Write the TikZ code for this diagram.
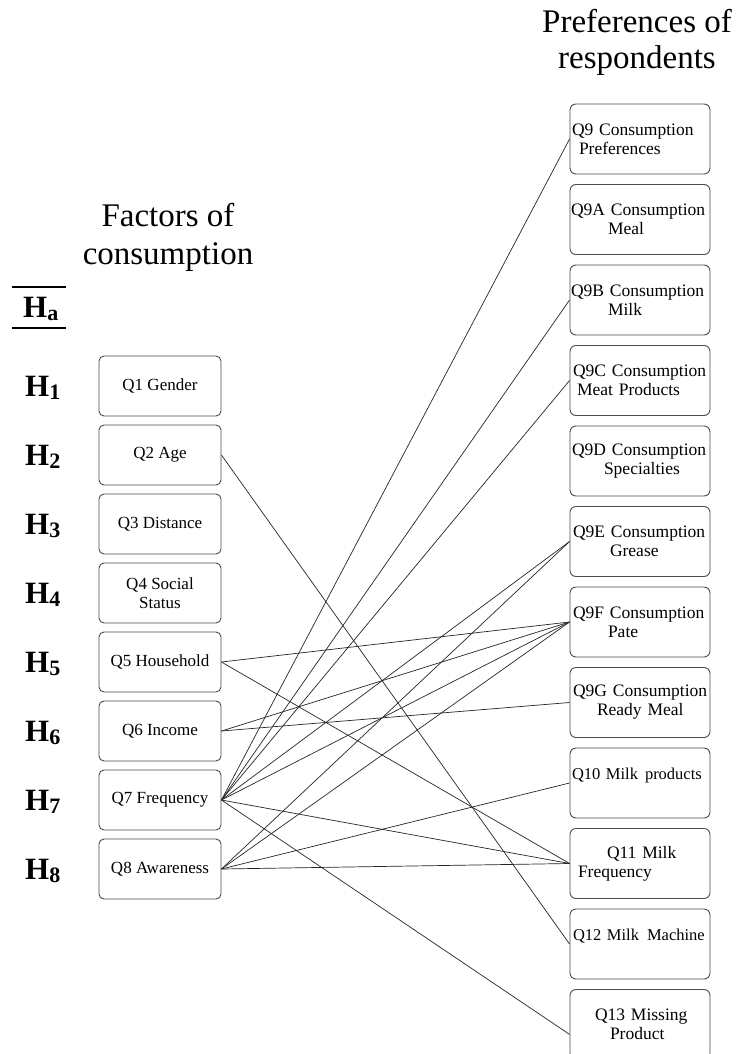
\documentclass[tikz,border=0pt]{standalone}
\usepackage{fontspec}
\setmainfont{Liberation Serif}
\newcommand{\Hsub}[1]{\textbf{H}\raisebox{-3pt}{\fontsize{22}{22}\selectfont\bfseries #1}}
\newcommand{\bxline}[2]{\hspace*{#1pt}\mbox{#2}}
\begin{document}
\begin{tikzpicture}[x=1pt,y=-1pt,
  lbox/.style={draw=black!70, line width=0.9pt, rounded corners=5pt, minimum width=122pt, minimum height=60pt, inner sep=0pt, align=center, font=\fontsize{17}{19}\selectfont},
  rbox/.style={draw=black!70, line width=0.9pt, rounded corners=6pt, minimum width=140pt, minimum height=70pt, inner xsep=1pt, inner ysep=0pt, text width=138pt, align=left, font=\fontsize{17.5}{19}\selectfont},
  hlab/.style={anchor=base west, inner sep=0pt, font=\fontsize{31}{31}\selectfont\bfseries},
  title/.style={align=center, inner sep=0pt, font=\fontsize{33}{38}\selectfont},
  link/.style={line width=0.7pt, black!85}]
\useasboundingbox (0,0) rectangle (739,1054);
\fill[white] (0,0) rectangle (739,1054);
\clip (0,0) rectangle (739,1054);

% titles
\node[title] (tleft) at (168,237.5) {Factors of\\consumption};
\node[title, font=\fontsize{33}{36}\selectfont] (tright) at (637,42) {Preferences of\\respondents};

% hypothesis labels
\node[hlab] (ha) at (23,317.5) {\textbf{H}\raisebox{-3pt}{\fontsize{22}{22}\selectfont\bfseries a}};
\draw[line width=1.5pt] (12,287) -- (66,287);
\draw[line width=1.5pt] (12,328) -- (66,328);
\node[hlab] (h1) at (25,396.3) {\Hsub{1}};
\node[hlab] (h2) at (25,465.3) {\Hsub{2}};
\node[hlab] (h3) at (25,534.3) {\Hsub{3}};
\node[hlab] (h4) at (25,603.3) {\Hsub{4}};
\node[hlab] (h5) at (25,672.3) {\Hsub{5}};
\node[hlab] (h6) at (25,741.3) {\Hsub{6}};
\node[hlab] (h7) at (25,810.3) {\Hsub{7}};
\node[hlab] (h8) at (25,879.3) {\Hsub{8}};

% left boxes
\node[lbox] (q1) at (160,386) {Q1 Gender};
\node[lbox] (q2) at (160,455) {Q2 Age};
\node[lbox] (q3) at (160,524) {Q3 Distance};
\node[lbox] (q4) at (160,593) {Q4 Social\\Status};
\node[lbox] (q5) at (160,662) {Q5 Household};
\node[lbox] (q6) at (160,731) {Q6 Income};
\node[lbox] (q7) at (160,800) {Q7 Frequency};
\node[lbox] (q8) at (160,869) {Q8 Awareness};

% right boxes
\node[rbox] (q9)  at (640,139)   {\bxline{1}{Q9 Consumption}\\\bxline{8}{Preferences}};
\node[rbox] (q9a) at (640,219.5) {\bxline{0}{Q9A Consumption}\\\bxline{37}{Meal}};
\node[rbox] (q9b) at (640,300)   {\bxline{0}{Q9B Consumption}\\\bxline{37}{Milk}};
\node[rbox] (q9c) at (640,380.5) {\bxline{2}{Q9C Consumption}\\\bxline{6}{Meat Products}};
\node[rbox] (q9d) at (640,461)   {\bxline{1}{Q9D Consumption}\\\bxline{33}{Specialties}};
\node[rbox] (q9e) at (640,541.5) {\bxline{2}{Q9E Consumption}\\\bxline{39}{Grease}};
\node[rbox] (q9f) at (640,622)   {\bxline{2}{Q9F Consumption}\\\bxline{37}{Pate}};
\node[rbox] (q9g) at (640,702.5) {\bxline{2}{Q9G Consumption}\\\bxline{26}{Ready Meal}};
\node[rbox, font=\fontsize{16.5}{19}\selectfont] (q10) at (640,783) {\bxline{1}{Q10 Milk\hspace{7pt}products}\\\mbox{}};
\node[rbox] (q11) at (640,863.5) {\bxline{36}{Q11 Milk}\\\bxline{7}{Frequency}};
\node[rbox, font=\fontsize{16.5}{19}\selectfont] (q12) at (640,944) {\bxline{2}{Q12 Milk\hspace{8pt}Machine}\\\mbox{}};
\node[rbox] (q13) at (640,1024.5) {\bxline{24}{Q13 Missing}\\\bxline{39}{Product}};

% connectors
\draw[link] (q2.east) -- (q12.west);
\draw[link] (q5.east) -- (q9f.west);
\draw[link] (q5.east) -- (q11.west);
\draw[link] (q6.east) -- (q9f.west);
\draw[link] (q6.east) -- (q9g.west);
\draw[link] (q7.east) -- (q9.west);
\draw[link] (q7.east) -- (q9b.west);
\draw[link] (q7.east) -- (q9c.west);
\draw[link] (q7.east) -- (q9e.west);
\draw[link] (q7.east) -- (q9f.west);
\draw[link] (q7.east) -- (q11.west);
\draw[link] (q7.east) -- (q13.188);
\draw[link] (q8.east) -- (q9e.west);
\draw[link] (q8.east) -- (q9f.west);
\draw[link] (q8.east) -- (q10.west);
\draw[link] (q8.east) -- (q11.west);
\end{tikzpicture}
\end{document}
